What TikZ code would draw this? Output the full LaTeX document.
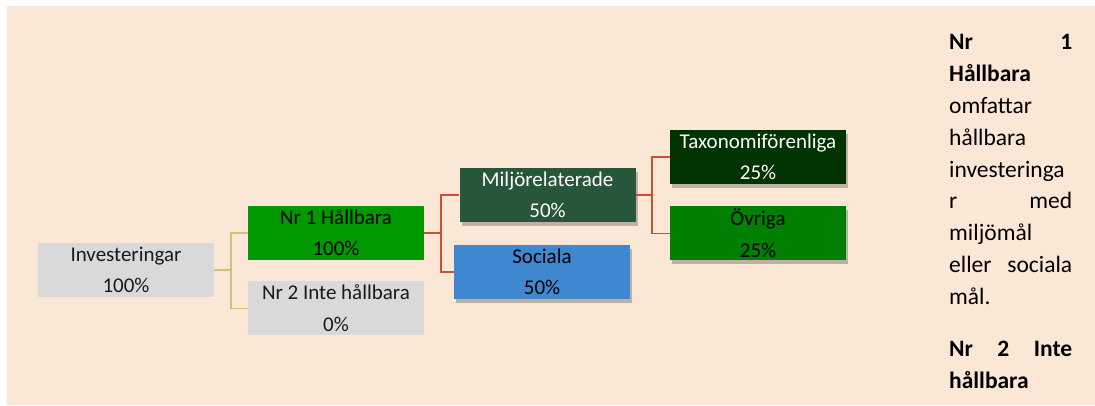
\documentclass[tikz,border=0pt]{standalone}
\usepackage{fontspec}
\setmainfont{Carlito}
\usepackage{tikz}
\usetikzlibrary{positioning,shadows}
\definecolor{peach}{HTML}{FBE7D6}
\definecolor{boxgrey}{HTML}{D9D9D9}
\definecolor{hgreen}{HTML}{009900}
\definecolor{miljogreen}{HTML}{26573A}
\definecolor{socblue}{HTML}{3F88CF}
\definecolor{taxgreen}{HTML}{003300}
\definecolor{ovrgreen}{HTML}{008000}
\definecolor{tanline}{HTML}{CFC07A}
\definecolor{rustline}{HTML}{C8512F}
\tikzset{box/.style={rectangle,minimum width=176pt,minimum height=54pt,inner sep=0pt,align=center,font=\fontsize{21}{31.5}\selectfont},
  shadowed/.style={drop shadow={shadow xshift=2pt,shadow yshift=-4pt,opacity=.35,fill=black!70}},
  tan link/.style={draw=tanline,line width=1.6pt},
  rust link/.style={draw=rustline,line width=1.8pt},}
\newcommand{\twolines}[2]{\rule{0pt}{15pt}#1\\#2\rule[-1pt]{0pt}{1pt}}

\begin{document}
\begin{tikzpicture}[x=1pt,y=-1pt]
    \useasboundingbox (0,0) rectangle (1095,405);
    \fill[white] (0,0) rectangle (1095,405);
    \fill[peach] (7,6) rectangle (1095,405);

    % tree
    \node[box,fill=boxgrey,text=black!90] (inv) at (126,270) {\twolines{Investeringar}{100\%}};
    \node[box,fill=hgreen,text=black] (nr1) at (336,233) {\twolines{Nr 1 Hållbara}{100\%}};
    \node[box,fill=boxgrey,text=black!90] (nr2) [below=21pt of nr1] {\twolines{Nr 2 Inte hållbara}{0\%}};
    \node[box,shadowed,fill=miljogreen,text=white] (miljo) at (547.5,195) {\twolines{Miljörelaterade}{50\%}};
    \node[box,shadowed,fill=socblue,text=black] (soc) at (542,272) {\twolines{Sociala}{50\%}};
    \node[box,shadowed,fill=taxgreen,text=white] (taxo) at (758,157) {\twolines{Taxonomiförenliga}{25\%}};
    \node[box,shadowed,fill=ovrgreen,text=black] (ovr) [below=22pt of taxo] {\twolines{Övriga}{25\%}};

    \path[tan link]
    (inv.east) -- ++(17,0) |- (nr1.west)
    (inv.east) -- ++(17,0) |- (nr2.west)
    ;
    \path[rust link]
    (nr1.east) -- ++(17,0) |- (miljo.west)
    (nr1.east) -- ++(17,0) |- (soc.west)
    (miljo.east) -- ++(16,0) |- (taxo.west)
    (miljo.east) -- ++(16,0) |- (ovr.west)
    ;

    % legend text
    \node[anchor=north west,text width=123pt,align=left,inner sep=0pt,font=\fontsize{23.5}{31.9}\selectfont] (legend) at (949,34)
    {\textbf{Nr}\hfill\textbf{1}\\
     \textbf{Hållbara}\\
     omfattar\\
     hållbara\\
     investeringa\\
     r\hfill med\\
     miljömål\\
     eller\hfill sociala\\
     mål.\\[20pt]
     \textbf{Nr}\hfill\textbf{2}\hfill\textbf{Inte}\\
     \textbf{hållbara}};
\end{tikzpicture}
\end{document}
